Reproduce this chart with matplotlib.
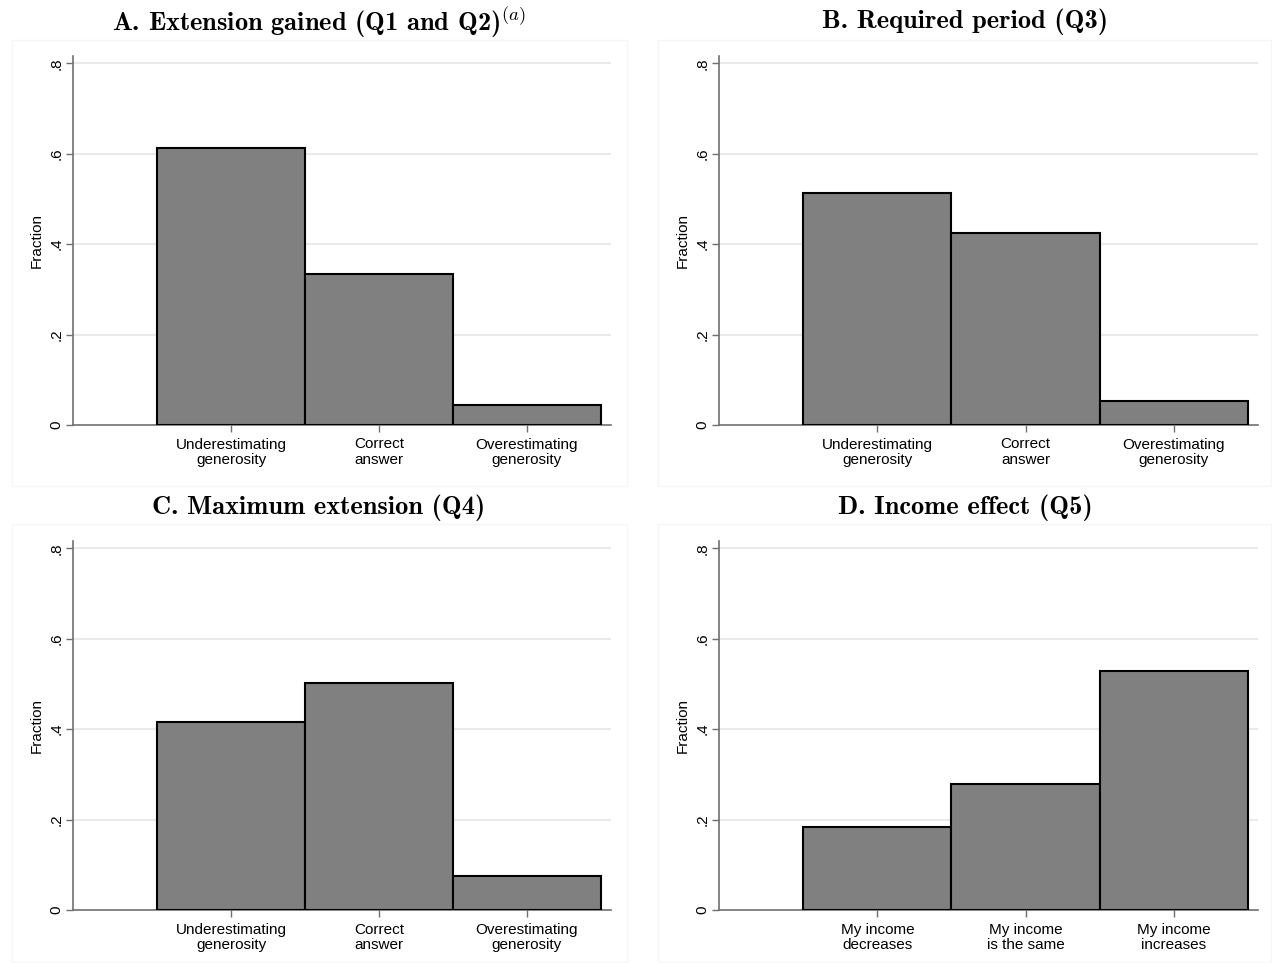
import matplotlib
matplotlib.use("Agg")
import matplotlib.pyplot as plt
from matplotlib.patches import Rectangle

plt.rcParams['font.family'] = ['Liberation Sans', 'DejaVu Sans']
plt.rcParams['mathtext.fontset'] = 'cm'

titles = ['A. Extension gained (Q1 and Q2)' + r'$^{(a)}$',
          'B. Required period (Q3)',
          'C. Maximum extension (Q4)',
          'D. Income effect (Q5)']

gen_labels = ['Underestimating\ngenerosity', 'Correct\nanswer', 'Overestimating\ngenerosity']
income_labels = ['My income\ndecreases', 'My income\nis the same', 'My income\nincreases']

vals_a = [0.613, 0.333, 0.045]
vals_b = [0.514, 0.425, 0.052]
vals_c = [0.416, 0.501, 0.076]
vals_d = [0.184, 0.279, 0.528]

yticks = [0, 0.2, 0.4, 0.6, 0.8]
ytick_labels = ['0', '.2', '.4', '.6', '.8']

fig = plt.figure(figsize=(12.72, 9.63), dpi=100)

W, H = 1272, 963
# axes boxes in pixels: left, top, right, bottom
boxes = [(73, 56, 611, 425), (719, 56, 1258, 425),
         (73, 541, 611, 910), (719, 541, 1258, 910)]
frames = [(12, 40, 627, 486), (658, 40, 1271, 486),
          (12, 524, 627, 962), (658, 524, 1271, 962)]
title_y = [22, 508]

data = [(vals_a, gen_labels), (vals_b, gen_labels),
        (vals_c, gen_labels), (vals_d, income_labels)]

for i, ((vals, labels), box, fr) in enumerate(zip(data, boxes, frames)):
    fig.patches.append(Rectangle((fr[0] / W, 1 - fr[3] / H), (fr[2] - fr[0]) / W,
                                 (fr[3] - fr[1]) / H, transform=fig.transFigure,
                                 fill=False, edgecolor='#f6f6f6', linewidth=1))
    l, t, r, b = box
    ax = fig.add_axes([l / W, 1 - b / H, (r - l) / W, (b - t) / H])
    x = [1, 2, 3]
    ax.bar(x, vals, width=1.0, color='#808080', edgecolor='black', linewidth=1.5, zorder=3)
    ax.set_xlim(-0.068, 3.568)
    ax.set_ylim(0, 0.816)
    ax.set_yticks(yticks)
    ax.set_yticklabels(ytick_labels, rotation=90, va='center', fontsize=11)
    for yv in yticks[1:]:
        ax.axhline(yv, color='#eaeaea', linewidth=1.5, zorder=1)
    ax.set_xticks(x)
    ax.set_xticklabels(labels, fontsize=11, linespacing=1.1)
    ax.tick_params(axis='both', color='#707070', length=5, width=1)
    ax.tick_params(axis='x', pad=4)
    ax.tick_params(axis='y', pad=2)
    for s in ['top', 'right']:
        ax.spines[s].set_visible(False)
    for s in ['left', 'bottom']:
        ax.spines[s].set_color('#707070')
        ax.spines[s].set_linewidth(1.2)
    ax.set_ylabel('Fraction', fontsize=11, labelpad=4)

    cx = 319 / W if i % 2 == 0 else 965 / W
    ty = title_y[i // 2]
    fig.text(cx, 1 - ty / H, titles[i], ha='center', va='center',
             fontsize=19, fontfamily='cmb10')

fig.savefig('out.png', dpi=100, facecolor='white')
